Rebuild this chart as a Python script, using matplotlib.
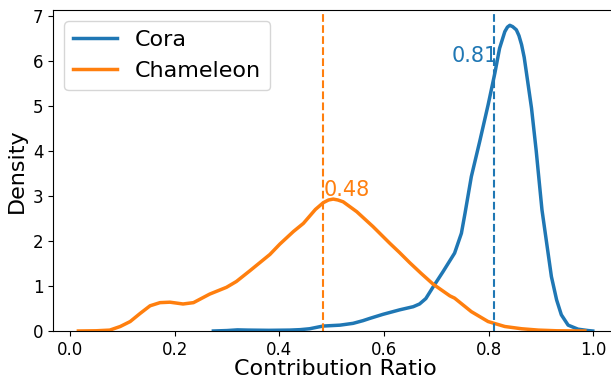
import matplotlib
matplotlib.use("Agg")
import matplotlib.pyplot as plt

# Chameleon KDE
cham_x = [0.016, 0.05, 0.076, 0.096, 0.115, 0.134, 0.153, 0.172, 0.191, 0.216, 0.236,
          0.267, 0.299, 0.318, 0.344, 0.363, 0.382, 0.401, 0.427, 0.446, 0.469, 0.484,
          0.494, 0.503, 0.512, 0.522, 0.548, 0.579, 0.611, 0.630, 0.649, 0.671, 0.694, 0.726, 0.735,
          0.767, 0.799, 0.831, 0.863, 0.895, 0.93, 0.984]
cham_y = [0.0, 0.005, 0.02, 0.10, 0.21, 0.39, 0.56, 0.63, 0.64, 0.60, 0.63,
          0.82, 0.97, 1.10, 1.34, 1.52, 1.70, 1.93, 2.21, 2.39, 2.70, 2.85,
          2.91, 2.93, 2.91, 2.87, 2.65, 2.32, 1.95, 1.74, 1.52, 1.28, 1.04, 0.78, 0.73,
          0.43, 0.21, 0.10, 0.05, 0.02, 0.005, 0.0]

# Cora KDE
cora_x = [0.274, 0.30, 0.32, 0.34, 0.38, 0.42, 0.44, 0.458, 0.475, 0.484, 0.516, 0.541,
          0.56, 0.573, 0.598, 0.630, 0.656, 0.668, 0.680, 0.694, 0.713, 0.735, 0.748,
          0.755, 0.767, 0.783, 0.799, 0.812, 0.821, 0.831, 0.836, 0.8405, 0.846, 0.853,
          0.858, 0.863, 0.868, 0.872, 0.882, 0.891, 0.8945, 0.902, 0.911, 0.920, 0.930,
          0.939, 0.952, 0.971, 0.990, 0.999]
cora_y = [0.0, 0.01, 0.025, 0.02, 0.015, 0.02, 0.03, 0.05, 0.09, 0.11, 0.13, 0.17,
          0.23, 0.28, 0.37, 0.47, 0.54, 0.60, 0.72, 0.98, 1.32, 1.73, 2.17,
          2.62, 3.43, 4.21, 5.02, 5.73, 6.28, 6.65, 6.75, 6.79, 6.76, 6.69,
          6.56, 6.36, 6.08, 5.76, 4.95, 4.00, 3.58, 2.69, 1.95, 1.21, 0.69,
          0.36, 0.13, 0.04, 0.01, 0.0]

series = ["Cora", "Chameleon"]
colors = ["#1f77b4", "#ff7f0e"]
means = [0.810, 0.484]
mean_labels = ["0.81", "0.48"]

fig = plt.figure(figsize=(6.11, 3.78), dpi=100)
ax = fig.add_axes([53 / 611, 47 / 378, (616.8 - 53) / 611, 321 / 378])

ax.plot(cora_x, cora_y, color=colors[0], lw=2.5, label=series[0])
ax.plot(cham_x, cham_y, color=colors[1], lw=2.5, label=series[1])

ax.axvline(means[0], color=colors[0], ls="--", lw=1.5)
ax.axvline(means[1], color=colors[1], ls="--", lw=1.5)

ax.text(0.818, 5.98, mean_labels[0], color=colors[0], fontsize=15, ha="right", va="baseline")
ax.text(means[1], 3.0, mean_labels[1], color=colors[1], fontsize=15, ha="left", va="baseline")

ax.set_xlim(-0.0325, 1.045)
ax.set_ylim(0, 7.13)
ax.set_xticks([0.0, 0.2, 0.4, 0.6, 0.8, 1.0])
ax.set_yticks(range(0, 8))
ax.tick_params(labelsize=12)
ax.set_xlabel("Contribution Ratio", fontsize=16, labelpad=0)
ax.set_ylabel("Density", fontsize=16)
ax.legend(loc="upper left", fontsize=16)

fig.savefig("out.png", dpi=100)
